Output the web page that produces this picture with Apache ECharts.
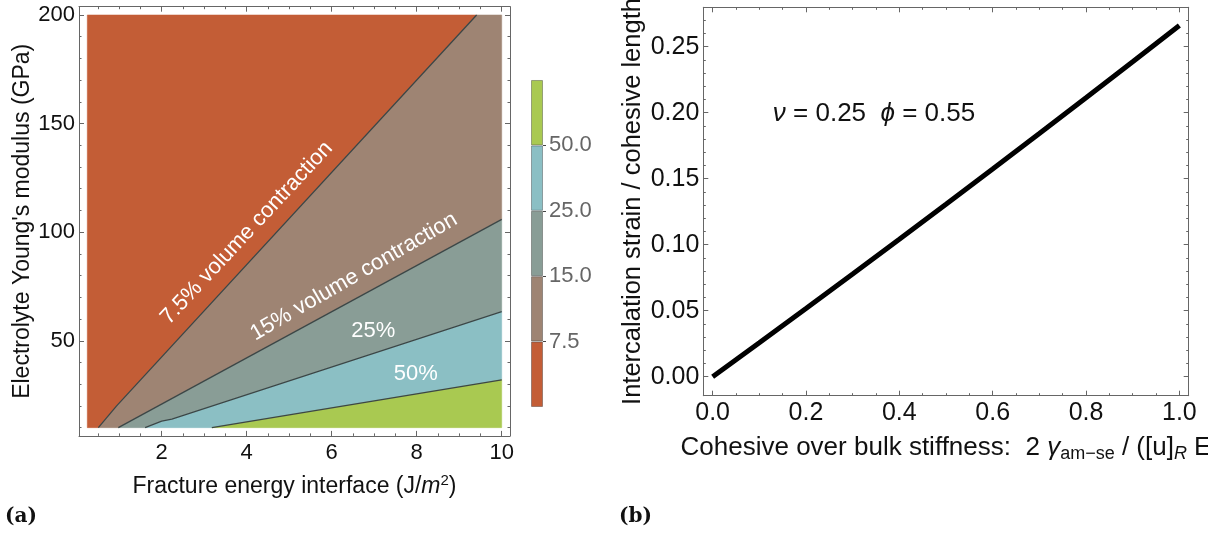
<!DOCTYPE html>
<html><head><meta charset="utf-8">
<script src="https://cdn.jsdelivr.net/npm/echarts@6/dist/echarts.min.js"></script>
<style>html,body{margin:0;padding:0;background:#fff}#c{width:1208px;height:543px}</style>
</head><body><div id="c"></div>
<script>
// ---------- Panel (a): contour boundaries [fracture energy (J/m^2), Young's modulus (GPa)]
const contour7_5 = [[0.51,10],[0.94,20],[9.41,200]];
const contour15  = [[0.98,10],[10,105.9]];
const contour25  = [[1.61,10],[2.0,13.0],[2.24,13.9],[10,63.4]];
const contour50  = [[3.18,10],[10,32.0]];
const domainA = {xMin:0.25, xMax:10, yMin:10, yMax:200};
const regionColors = ['#C35D36','#9E8473','#899D96','#8BBFC4','#A9C951'];
const colorbarLabels = ['7.5','15.0','25.0','50.0'];
const xTicksA = [2,4,6,8,10];
const yTicksA = [50,100,150,200];
const contourLabels = [
  {text:'7.5% volume contraction', pos:[4.0,99.6], angle:47},
  {text:'15% volume contraction',  pos:[6.52,79.5], angle:30},
  {text:'25%', pos:[6.98,54.5], angle:0},
  {text:'50%', pos:[7.98,34.7], angle:0}
];
// ---------- Panel (b)
const stiffness = [0,0.1,0.2,0.3,0.4,0.5,0.6,0.7,0.8,0.9,1.0];
const strain    = [0,0.0257,0.0517,0.0778,0.1041,0.1306,0.1573,0.1842,0.2113,0.2385,0.266];
const xTicksB = [0,0.2,0.4,0.6,0.8,1.0];
const yTicksB = [0,0.05,0.10,0.15,0.20,0.25];
const annotationB = {text:'{i|ν} = 0.25  {i|ϕ} = 0.55', pos:[0.129,0.199]};

const FONT = '"Liberation Sans", Arial, sans-serif';
const FRAME = '#666';

function steps(a,b,s){const r=[];for(let v=a;v<=b+1e-9;v+=s)r.push(+v.toFixed(4));return r;}

function frameAxes(dim, gridIndex, min, max, majors, minors, labelOpts, nameOpts, majLen, minLen){
  const main = dim==='x' ? 'bottom' : 'left';
  const opp  = dim==='x' ? 'top' : 'right';
  const base = {type:'value', gridIndex, min, max, splitLine:{show:false}, minorTick:{show:false}};
  const line = {show:true, onZero:false, lineStyle:{color:FRAME, width:1}};
  const noLine = {show:false, onZero:false};
  const tick = (vals,len)=>({show:true, inside:true, length:len, customValues:vals, lineStyle:{color:FRAME, width:1}});
  return [
    Object.assign({}, base, nameOpts, {position:main, axisLine:line, axisTick:tick(majors,majLen),
      axisLabel:Object.assign({show:true, customValues:majors}, labelOpts)}),
    Object.assign({}, base, {position:main, axisLine:noLine, axisTick:tick(minors,minLen), axisLabel:{show:false}}),
    Object.assign({}, base, {position:opp, axisLine:line, axisTick:tick(majors,majLen), axisLabel:{show:false}}),
    Object.assign({}, base, {position:opp, axisLine:noLine, axisTick:tick(minors,minLen), axisLabel:{show:false}})
  ];
}

// region polygons built from the boundaries
const A = domainA;
const regions = [
  [[A.xMin,A.yMin], ...contour7_5, [A.xMin,A.yMax]],
  [...contour7_5, [A.xMax,A.yMax], ...contour15.slice().reverse()],
  [...contour15, ...contour25.slice().reverse()],
  [...contour25, ...contour50.slice().reverse()],
  [...contour50, [A.xMax,A.yMin]]
];

const labA = {fontSize:22, color:'#111', fontFamily:FONT, margin:6};
const labB = {fontSize:25, color:'#111', fontFamily:FONT, margin:5};

const xAxes = [].concat(
  frameAxes('x',0,0.055,10.195,xTicksA,steps(0.5,10,0.5),labA,{
    name:'Fracture energy interface (J/{i|m}{sup|2})', nameLocation:'middle', nameGap:37,
    nameTextStyle:{fontSize:23, color:'#111', fontFamily:FONT, lineHeight:28,
      rich:{i:{fontSize:23, fontStyle:'italic', fontFamily:FONT, color:'#111', lineHeight:28},
            sup:{fontSize:15, fontFamily:FONT, color:'#111', verticalAlign:'top', lineHeight:15}}}},5,2.5),
  frameAxes('x',2,-0.02,1.02,xTicksB,steps(0,1,0.05),Object.assign({formatter:v=>v.toFixed(1)},labB),{
    name:'Cohesive over bulk stiffness:  2 {g|γ}{sub|am−se} / ([u]{subi|R} E', nameLocation:'middle', nameGap:37,
    nameTextStyle:{fontSize:26, color:'#111', fontFamily:FONT, lineHeight:30,
      rich:{g:{fontSize:26, fontStyle:'italic', fontFamily:FONT, color:'#111', lineHeight:30},
            sub:{fontSize:18, fontFamily:FONT, color:'#111', verticalAlign:'bottom', lineHeight:17},
            subi:{fontSize:18, fontStyle:'italic', fontFamily:FONT, color:'#111', verticalAlign:'bottom', lineHeight:17}}}},5,2.5),
  [{type:'category', gridIndex:1, data:['bar'], show:false}]
);
const yAxes = [].concat(
  frameAxes('y',0,6.2,203.8,yTicksA,steps(10,200,10),Object.assign({},labA,{margin:4}),{
    name:"Electrolyte Young's modulus (GPa)", nameLocation:'middle', nameGap:40,
    nameTextStyle:{fontSize:23, color:'#111', fontFamily:FONT}},5,2.5),
  frameAxes('y',2,-0.0144,0.2798,yTicksB,steps(0,0.27,0.01),Object.assign({formatter:v=>v.toFixed(2)},labB,{margin:4}),{
    name:'Intercalation strain / cohesive length', nameLocation:'middle', nameGap:57,
    nameTextStyle:{fontSize:25.5, color:'#111', fontFamily:FONT}},5,2.5),
  [{type:'value', gridIndex:1, min:0, max:5, position:'right', splitLine:{show:false},
    axisLine:{show:false}, axisTick:{show:true, inside:false, length:3, customValues:[1,2,3,4], lineStyle:{color:'#444'}},
    axisLabel:{show:true, customValues:[1,2,3,4], formatter:v=>colorbarLabels[Math.round(v)-1], margin:6,
      fontSize:22, color:'#666', fontFamily:FONT}}]
);

const series = [];
series.push({type:'custom', xAxisIndex:0, yAxisIndex:0, silent:true, z:1, clip:false,
  data: regions.map(r=>r[0]),
  renderItem:(params,api)=>({type:'polygon', shape:{points:regions[params.dataIndex].map(p=>api.coord(p))},
    style:{fill:regionColors[params.dataIndex], stroke:regionColors[params.dataIndex], lineWidth:0.5}})
});
[contour7_5,contour15,contour25,contour50].forEach(c=>series.push({type:'line', xAxisIndex:0, yAxisIndex:0, z:3,
  data:c, symbol:'none', lineStyle:{color:'#3c4646', width:1.3}, silent:true}));
series.push({type:'custom', xAxisIndex:0, yAxisIndex:0, silent:true, z:4, clip:false,
  data: contourLabels.map(l=>l.pos),
  renderItem:(params,api)=>{const l=contourLabels[params.dataIndex];const p=api.coord(l.pos);
    return {type:'text', x:p[0], y:p[1], rotation:l.angle*Math.PI/180,
      style:{text:l.text, fill:'#fff', fontSize:22, fontFamily:FONT, align:'center', verticalAlign:'middle'}};}
});
// colorbar
regionColors.forEach((c,i)=>series.push({type:'bar', xAxisIndex:8, yAxisIndex:8, stack:'cb', barWidth:'100%',
  data:[1], itemStyle:{color:c, borderColor:'rgba(0,0,0,0.3)', borderWidth:1}, silent:true}));
// panel b
series.push({type:'line', xAxisIndex:4, yAxisIndex:4, data:stiffness.map((x,i)=>[x,strain[i]]),
  symbol:'none', lineStyle:{color:'#000', width:5}, silent:true, z:3});
series.push({type:'custom', xAxisIndex:4, yAxisIndex:4, silent:true, z:4, clip:false,
  data:[annotationB.pos],
  renderItem:(params,api)=>{const p=api.coord(annotationB.pos);
    return {type:'text', x:p[0], y:p[1], style:{text:annotationB.text, fill:'#111', fontSize:26, fontFamily:FONT,
      align:'left', verticalAlign:'middle', rich:{i:{fontStyle:'italic', fontSize:26, fontFamily:FONT, fill:'#111'}}}};}
});

const chart = echarts.init(document.getElementById('c'), null, {renderer:'canvas'});
chart.setOption({
  animation:false,
  backgroundColor:'#fff',
  grid:[
    {left:79, top:6.7, width:431, height:429.2, outerBoundsMode:'none', containLabel:false},
    {left:531, top:80, width:12, height:327, outerBoundsMode:'none', containLabel:false},
    {left:703.3, top:7.3, width:485.4, height:388.4, outerBoundsMode:'none', containLabel:false}
  ],
  xAxis:xAxes, yAxis:yAxes, series:series,
  graphic:[
    {type:'text', left:5, top:507, style:{text:'(a)', font:'bold 20px "DejaVu Serif"', fill:'#111'}},
    {type:'text', left:619, top:507, style:{text:'(b)', font:'bold 20px "DejaVu Serif"', fill:'#111'}}
  ]
});
</script></body></html>
